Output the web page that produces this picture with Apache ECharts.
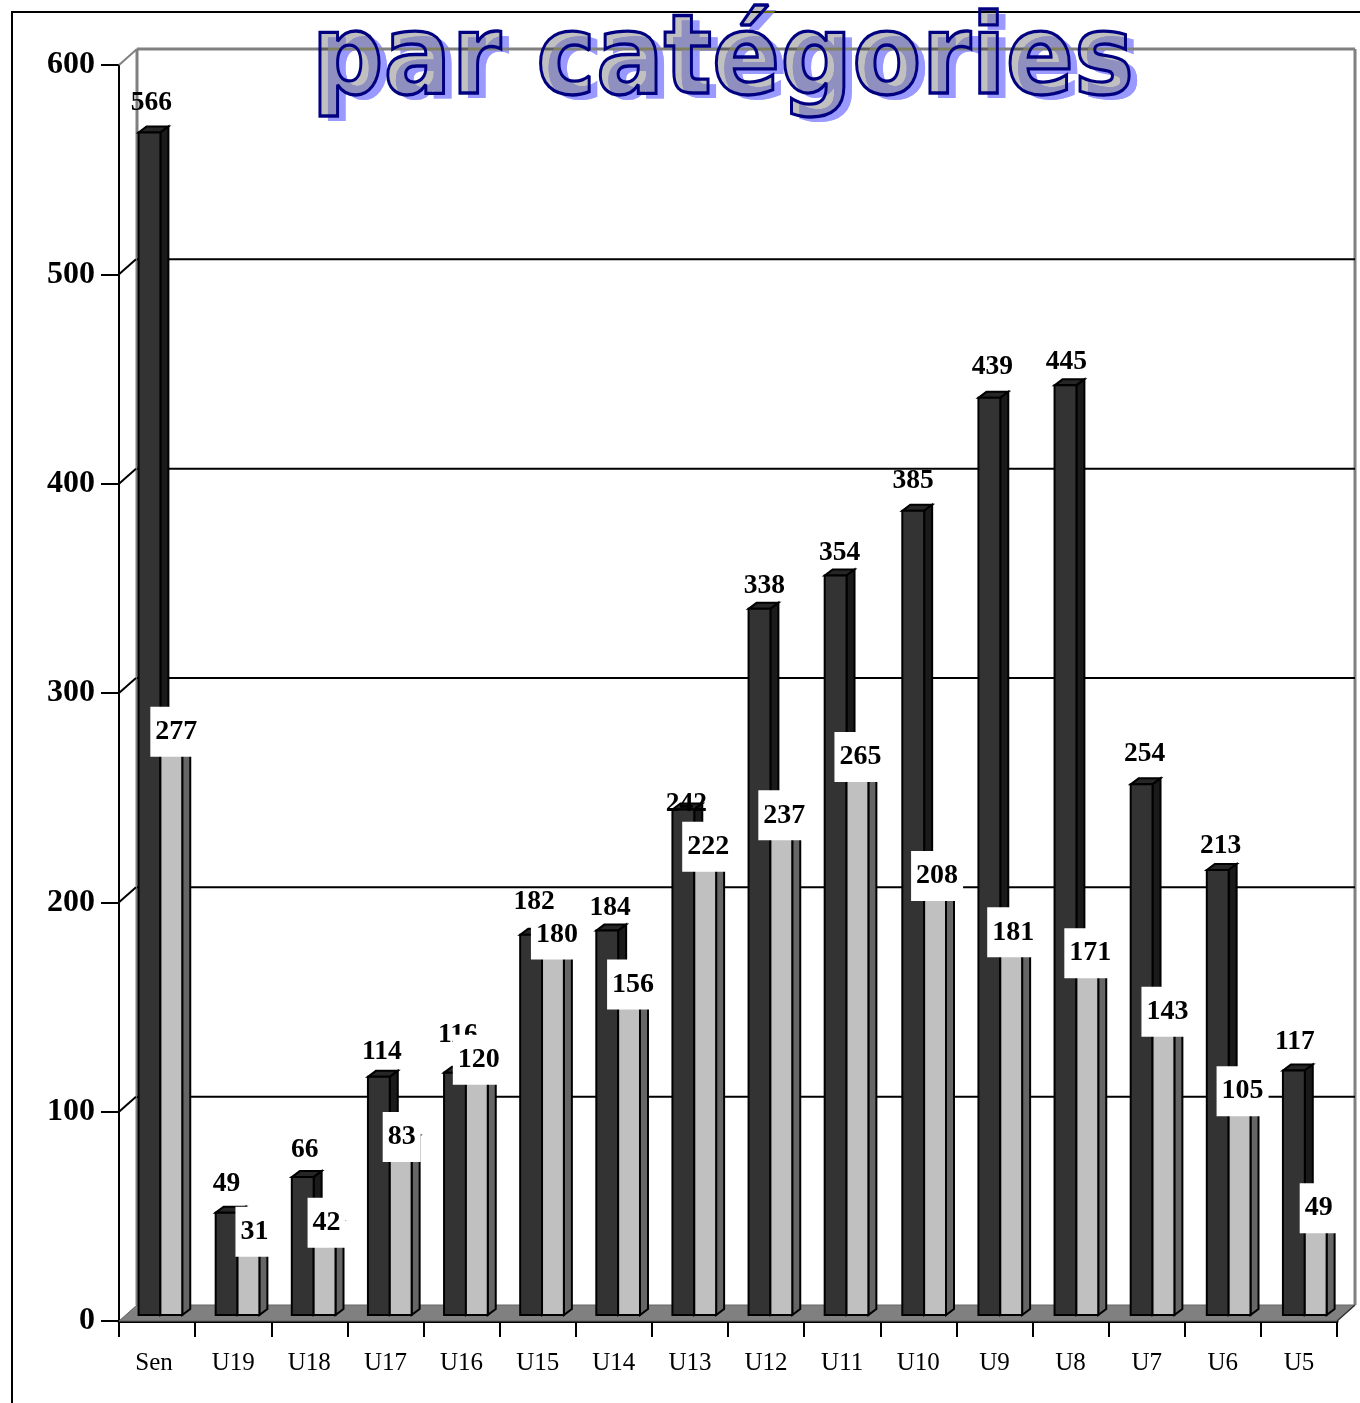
<!DOCTYPE html>
<html><head><meta charset="utf-8">
<script src="https://cdn.jsdelivr.net/npm/echarts@6/dist/echarts.min.js"></script>
<style>html,body{margin:0;padding:0;background:#fff}#c{width:1360px;height:1403px}</style>
</head><body><div id="c"></div>
<script>
const categories = ['Sen','U19','U18','U17','U16','U15','U14','U13','U12','U11','U10','U9','U8','U7','U6','U5'];
const darkValues = [566,49,66,114,116,182,184,242,338,354,385,439,445,254,213,117];
const lightValues = [277,31,42,83,120,180,156,222,237,265,208,181,171,143,105,49];
const gridValues = [100,200,300,400,500];
const titleText = 'par catégories';

// label placement, separate from the data
const darkLabelLift = [30,29,27,25,38,33,23,6,23,23,30,31,23,30,24,29];
const darkLabelNudge = [-1,-3,-1,0,0,0,0,0,2,1,-3,0,-2,0,0,-2];
const lightLabelLift = [0,14,0,0,0,0,0,0,0,0,0,0,0,0,0,0];
const lightLabelNudge = [3,4,0,-1,0,2,2,1,1,1,0,0,1,2,1,1];

const SERIF = '"Liberation Serif","Times New Roman",serif';
const DX = 18, DY = 16;      // wall depth
const BY = 6;                // bar inset from the front plane
const TX = 8, TY = 6;        // bar depth
const BAR_SCALE = 0.998;
const STROKE = {stroke:'#000', lineWidth:2};

function barParts(x, w, yTop, yBase, front, side, top){
  return [
    {type:'polygon', shape:{points:[[x,yTop],[x+TX,yTop-TY],[x+w+TX,yTop-TY],[x+w,yTop]]}, style:{fill:top, ...STROKE}},
    {type:'polygon', shape:{points:[[x+w,yTop],[x+w+TX,yTop-TY],[x+w+TX,yBase-TY],[x+w,yBase]]}, style:{fill:side, ...STROKE}},
    {type:'rect', shape:{x:x,y:yTop,width:w,height:yBase-yTop}, style:{fill:front, ...STROKE}}
  ];
}
function geom(i, v, api, offset){
  const band = api.size([1,0])[0];
  const c = api.coord([i, v]);
  const base = api.coord([i, 0])[1] - BY;
  const w = band * 0.287;
  const shift = i === 0 ? -1 : (i >= 10 ? 1.5 : 0);
  return {w, x: c[0] - band*0.23 + offset*w + shift, yTop: base - (base - (c[1]-BY))*BAR_SCALE, yBase: base};
}

function renderFrame(params, api){
  const cs = params.coordSys;
  const v = api.value(0);
  const y = api.coord([0, v])[1];
  const x0 = cs.x, x1 = cs.x + cs.width, yF = cs.y + cs.height;
  if (v === 0) {
    const gray = {stroke:'#808080', lineWidth:3};
    return {type:'group', children:[
      {type:'polygon', shape:{points:[[x0,yF],[x0+DX,yF-DY],[x1+DX,yF-DY],[x1,yF]]}, style:{fill:'#808080', stroke:'#666', lineWidth:1}},
      {type:'line', shape:{x1:x0+DX,y1:cs.y-DY,x2:x0+DX,y2:yF-DY}, style:gray},
      {type:'line', shape:{x1:x0+DX,y1:cs.y-DY,x2:x1+DX,y2:cs.y-DY}, style:gray},
      {type:'line', shape:{x1:x1+DX,y1:cs.y-DY,x2:x1+DX,y2:yF-DY}, style:gray},
      {type:'line', shape:{x1:x0,y1:cs.y,x2:x0+DX,y2:cs.y-DY}, style:{stroke:'#808080', lineWidth:2}},
      {type:'line', shape:{x1:x1,y1:yF,x2:x1+DX,y2:yF-DY}, style:{stroke:'#333', lineWidth:1.5}}
    ]};
  }
  return {type:'group', children:[
    {type:'line', shape:{x1:x0,y1:y,x2:x0+DX-1,y2:y-DY+1}, style:{stroke:'#000', lineWidth:2}},
    {type:'line', shape:{x1:x0+DX,y1:y-DY+1,x2:x1+DX,y2:y-DY+1}, style:{stroke:'#000', lineWidth:2}}
  ]};
}
function renderDark(params, api){
  const i = api.value(0), v = api.value(1);
  const g = geom(i, v, api, 0);
  const kids = barParts(g.x, g.w, g.yTop, g.yBase, '#333333', '#1a1a1a', '#262626');
  kids.push({type:'text', style:{text:String(v), x:g.x+g.w/2+3+darkLabelNudge[i], y:g.yTop-darkLabelLift[i], align:'center', verticalAlign:'middle',
    font:'bold 27.5px '+SERIF, fill:'#000'}, z2:5});
  return {type:'group', children:kids};
}
function renderLight(params, api){
  const i = api.value(0), v = api.value(1);
  const g = geom(i, v, api, 1);
  const kids = barParts(g.x, g.w, g.yTop, g.yBase, '#c0c0c0', '#666666', '#999999');
  kids.push({type:'text', style:{text:String(v), x:g.x+g.w/2+2+lightLabelNudge[i], y:g.yTop-4.5-lightLabelLift[i], align:'center', verticalAlign:'middle',
    font:'bold 28px '+SERIF, fill:'#000', backgroundColor:'#fff', padding:[10,5,10,5], lineHeight:30}, z2:5});
  return {type:'group', children:kids};
}

const TITLE_FONT = 'bold 100.7px "DejaVu Sans"';
const TX0 = 311.5, TY0 = 64, SY = 1.1, SHX = 8, SHY = 5;
function titleLayer(dx, dy, style, z){
  return {type:'text', x:TX0+dx, y:TY0+dy, scaleY:SY, z:z, silent:true,
    style:Object.assign({text:titleText, font:TITLE_FONT, x:0, y:0, align:'left', verticalAlign:'middle'}, style)};
}
const TITLE_BLENDS = {'#c0c0c0':'multiply', 'rgb(72,72,255)':'multiply', 'rgb(113,113,0)':'screen'};

const chart = echarts.init(document.getElementById('c'), null, {renderer:'canvas'});
chart.setOption({
  animation:false,
  backgroundColor:'#ffffff',
  grid:{left:119, top:65, width:1218, height:1256, containLabel:false},
  xAxis:{type:'category', data:categories, boundaryGap:true,
    axisLine:{onZero:false, lineStyle:{color:'#000', width:3}},
    axisTick:{show:true, alignWithLabel:false, length:16, lineStyle:{color:'#000', width:2}, inside:false},
    axisLabel:{interval:0, margin:30, fontFamily:SERIF, fontSize:25, color:'#000', hideOverlap:false,
      formatter:function(v,i){ return i === 0 ? '{s|'+v+'}' : v; },
      rich:{s:{fontFamily:SERIF, fontSize:25, color:'#000', padding:[0,6,0,0]}}},
    splitLine:{show:false}},
  yAxis:{type:'value', min:0, max:600, interval:100,
    axisLine:{show:true, lineStyle:{color:'#000', width:2}},
    axisTick:{show:true, length:18, lineStyle:{color:'#000', width:2}},
    axisLabel:{margin:24, fontFamily:SERIF, fontSize:32, fontWeight:'bold', color:'#000', padding:[4,0,0,0]},
    splitLine:{show:false}},
  series:[
    {type:'custom', name:'frame', coordinateSystem:'cartesian2d', clip:false, silent:true, z:1,
      data:[0].concat(gridValues).map(v=>[v]), encode:{y:0}, renderItem:renderFrame},
    {type:'custom', name:'dark', coordinateSystem:'cartesian2d', clip:false, silent:true, z:3,
      data:darkValues.map((v,i)=>[i,v]), encode:{x:0,y:1}, renderItem:renderDark},
    {type:'custom', name:'light', coordinateSystem:'cartesian2d', clip:false, silent:true, z:4,
      data:lightValues.map((v,i)=>[i,v]), encode:{x:0,y:1}, renderItem:renderLight}
  ],
  graphic:{elements:[
    {type:'line', z:50, silent:true, shape:{x1:11,y1:12,x2:1360,y2:12}, style:{stroke:'#000', lineWidth:2}},
    {type:'line', z:50, silent:true, shape:{x1:12,y1:12,x2:12,y2:1403}, style:{stroke:'#000', lineWidth:2}},
    titleLayer(0,0,{fill:'#c0c0c0'},60),
    titleLayer(SHX,SHY,{fill:'rgb(72,72,255)'},61),
    titleLayer(SHX,SHY,{fill:'rgb(113,113,0)'},62),
    titleLayer(0,0,{fill:'transparent', stroke:'#000080', lineWidth:3},63)
  ]}
});
// the text spans do not inherit blend from their parent, so set it on the spans
const zr = chart.getZr();
zr.storage.getDisplayList(true).forEach(el => {
  if (el.style && el.style.text === titleText && TITLE_BLENDS[el.style.fill]) {
    el.style.blend = TITLE_BLENDS[el.style.fill];
    el.dirty();
  }
});
zr.refresh();
</script></body></html>
